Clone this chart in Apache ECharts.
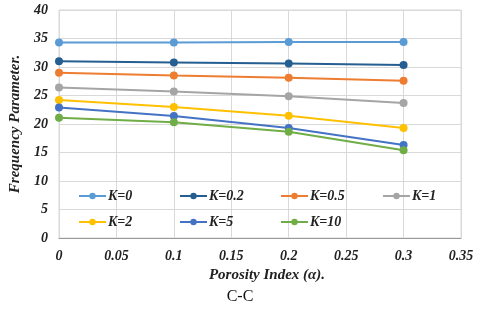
<!DOCTYPE html>
<html><head><meta charset="utf-8">
<script src="https://cdn.jsdelivr.net/npm/echarts@6/dist/echarts.min.js"></script>
<style>html,body{margin:0;padding:0;background:#fff}#c{width:480px;height:311px}</style>
</head><body><div id="c"></div>
<script>
var xValues = [0, 0.1, 0.2, 0.3];
var seriesNames = ['K=0', 'K=0.2', 'K=0.5', 'K=1', 'K=2', 'K=5', 'K=10'];
var k0   = [34.3, 34.3, 34.4, 34.4];
var k02  = [31.0, 30.8, 30.6, 30.35];
var k05  = [29.0, 28.5, 28.1, 27.6];
var k1   = [26.4, 25.7, 24.85, 23.7];
var k2   = [24.2, 23.0, 21.45, 19.3];
var k5   = [22.9, 21.4, 19.3, 16.3];
var k10  = [21.1, 20.3, 18.65, 15.4];
var allValues = [k0, k02, k05, k1, k2, k5, k10];
var colors = ['#5B9BD5', '#255E91', '#ED7D31', '#A5A5A5', '#FFC000', '#4472C4', '#70AD47'];

var font = 'Liberation Serif';
var chart = echarts.init(document.getElementById('c'));
var series = seriesNames.map(function (n, i) {
  return {
    name: n, type: 'line',
    data: xValues.map(function (x, j) { return [x, allValues[i][j]]; }),
    symbol: 'circle', symbolSize: 8,
    lineStyle: { width: 2, color: colors[i] },
    itemStyle: { color: colors[i] }
  };
});
var legText = { fontFamily: font, fontStyle: 'italic', fontWeight: 'bold', fontSize: 14, color: '#222', padding: [0, 0, 0, -3] };
function leg(names, left) {
  return {
    data: names, left: left, top: 184, orient: 'vertical',
    itemWidth: 27, itemHeight: 8, itemGap: 12, textStyle: legText
  };
}
var legends = [
  leg(['K=0', 'K=2'], 73),
  leg(['K=0.2', 'K=5'], 174),
  leg(['K=0.5', 'K=10'], 275),
  leg(['K=1'], 377)
];
chart.setOption({
  animation: false,
  color: colors,
  grid: { left: 56, right: 19, top: 10, bottom: 73, show: true, borderColor: '#d9d9d9', borderWidth: 1 },
  legend: legends,
  xAxis: {
    type: 'value', min: 0, max: 0.35, interval: 0.05,
    name: 'Porosity Index (α).', nameLocation: 'middle', nameGap: 28,
    nameTextStyle: { fontFamily: font, fontStyle: 'italic', fontWeight: 'bold', fontSize: 15, color: '#222', padding: [0, 0, 0, 14] },
    axisLine: { lineStyle: { color: '#999' } },
    axisTick: { show: false },
    axisLabel: { fontFamily: font, fontStyle: 'italic', fontWeight: 'bold', fontSize: 14, color: '#222', margin: 11,
      formatter: function (v) { return String(parseFloat(v.toFixed(2))); } },
    splitLine: { show: true, lineStyle: { color: '#d9d9d9' } }
  },
  yAxis: {
    type: 'value', min: 0, max: 40, interval: 5,
    name: 'Frequency Parameter.', nameLocation: 'middle', nameGap: 36,
    nameTextStyle: { fontFamily: font, fontStyle: 'italic', fontWeight: 'bold', fontSize: 15, color: '#222' },
    axisLine: { show: false }, axisTick: { show: false },
    axisLabel: { fontFamily: font, fontStyle: 'italic', fontWeight: 'bold', fontSize: 14, color: '#222', margin: 11 },
    splitLine: { lineStyle: { color: '#d9d9d9' } }
  },
  graphic: [{ type: 'text', left: 'center', top: 289, style: { text: 'C-C', fontFamily: font, fontSize: 16, fill: '#111' } }],
  series: series
});
</script></body></html>
